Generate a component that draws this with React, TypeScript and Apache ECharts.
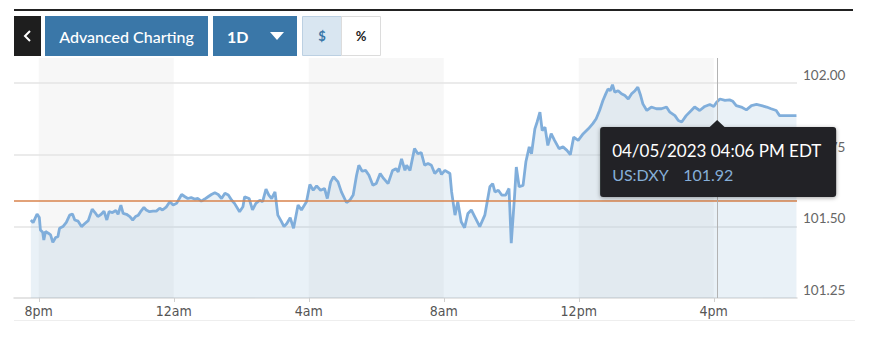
import React, { useEffect, useRef } from 'react';
import * as echarts from 'echarts';

// minutes after 8pm (04/04/2023)
const minutes = [
  -14, -10, -3, 1, 3, 7, 9, 12, 17, 21, 25, 30, 34, 37, 43, 49, 55, 60, 64, 70,
  76, 82, 88, 95, 100, 105, 111, 116, 121, 125, 131, 137, 141, 146, 150, 156, 162, 167, 172, 177,
  181, 187, 191, 197, 203, 209, 215, 220, 227, 233, 239, 245, 254, 260, 265, 271, 277, 283, 289, 295,
  301, 307, 313, 319, 325, 331, 337, 343, 348, 357, 363, 366, 374, 380, 386, 393, 398, 404, 409, 414,
  420, 425, 431, 436, 441, 447, 453, 461, 467, 476, 482, 488, 494, 501, 508, 513, 519, 524, 532, 538,
  547, 553, 559, 565, 569, 575, 581, 587, 594, 600, 607, 613, 621, 629, 635, 639, 645, 651, 654, 660,
  668, 674, 680, 686, 692, 698, 704, 712, 716, 722, 731, 734, 740, 745, 751, 757, 763, 769, 775, 784,
  793, 802, 807, 811, 817, 823, 830, 836, 840, 846, 849, 854, 861, 866, 872, 876, 882, 886, 891, 895,
  900, 905, 911, 917, 925, 932, 939, 945, 951, 959, 968, 977, 985, 991, 997, 1003, 1008, 1012, 1016, 1020,
  1024, 1030, 1036, 1042, 1048, 1054, 1060, 1065, 1070, 1074, 1081, 1089, 1098, 1107, 1116, 1122, 1131, 1137, 1143, 1151,
  1160, 1166, 1175, 1184, 1193, 1200, 1205, 1211, 1220, 1228, 1234, 1240, 1249, 1258, 1267, 1276, 1285, 1294, 1302, 1311,
  1317, 1326, 1338, 1347,
];

const values = [
  101.522, 101.513, 101.543, 101.531, 101.487, 101.479, 101.452, 101.482, 101.476, 101.470, 101.444, 101.461, 101.464, 101.493, 101.499, 101.514, 101.539, 101.543, 101.522, 101.518,
  101.499, 101.510, 101.520, 101.560, 101.548, 101.534, 101.542, 101.553, 101.522, 101.551, 101.548, 101.555, 101.542, 101.574, 101.545, 101.542, 101.534, 101.522, 101.534, 101.539,
  101.551, 101.566, 101.557, 101.551, 101.553, 101.553, 101.563, 101.557, 101.568, 101.586, 101.574, 101.580, 101.611, 101.603, 101.597, 101.600, 101.595, 101.597, 101.588, 101.595,
  101.603, 101.611, 101.617, 101.611, 101.597, 101.615, 101.609, 101.591, 101.580, 101.551, 101.568, 101.603, 101.597, 101.557, 101.580, 101.591, 101.586, 101.630, 101.609, 101.597,
  101.620, 101.539, 101.518, 101.499, 101.510, 101.530, 101.493, 101.574, 101.557, 101.586, 101.646, 101.626, 101.641, 101.626, 101.632, 101.597, 101.655, 101.673, 101.655, 101.620,
  101.583, 101.591, 101.609, 101.678, 101.713, 101.692, 101.695, 101.678, 101.643, 101.649, 101.684, 101.667, 101.649, 101.695, 101.701, 101.690, 101.735, 101.695, 101.713, 101.695,
  101.771, 101.753, 101.757, 101.713, 101.719, 101.713, 101.684, 101.701, 101.681, 101.695, 101.684, 101.620, 101.539, 101.586, 101.516, 101.495, 101.545, 101.557, 101.534, 101.499,
  101.539, 101.638, 101.649, 101.620, 101.626, 101.609, 101.609, 101.632, 101.441, 101.609, 101.707, 101.638, 101.643, 101.725, 101.777, 101.753, 101.840, 101.864, 101.898, 101.834,
  101.846, 101.782, 101.823, 101.800, 101.771, 101.777, 101.765, 101.750, 101.811, 101.800, 101.823, 101.840, 101.858, 101.875, 101.904, 101.939, 101.962, 101.979, 101.973, 101.994,
  101.968, 101.973, 101.962, 101.956, 101.944, 101.962, 101.973, 101.985, 101.956, 101.927, 101.904, 101.916, 101.910, 101.910, 101.916, 101.898, 101.886, 101.869, 101.864, 101.886,
  101.904, 101.916, 101.904, 101.918, 101.925, 101.918, 101.933, 101.944, 101.939, 101.941, 101.936, 101.921, 101.916, 101.906, 101.921, 101.925, 101.921, 101.916, 101.910, 101.904,
  101.886, 101.886, 101.886, 101.886,
];

const tickMinutes = [0, 240, 480, 720, 960, 1200];
const tickLabels = ['8pm', '12am', '4am', '8am', '12pm', '4pm'];
const yTicks = [101.25, 101.5, 101.75, 102.0];
const gridValues = [101.5, 101.75, 102.0];
const prevClose = 101.59;
const shadedRanges = [
  [0, 240],
  [480, 720],
  [960, 1200],
];
const cursorMinute = 1206;
const tooltipDate = '04/05/2023 04:06 PM EDT';
const tooltipSymbol = 'US:DXY';
const tooltipValue = '101.92';
const buttonLabels = ['Advanced Charting', '1D', '$', '%'];

const FONT = 'Lato, "Noto Sans", sans-serif';

export default function App() {
  const ref = useRef<HTMLDivElement>(null);

  useEffect(() => {
    if (!ref.current) return;
    const chart = echarts.init(ref.current, undefined, { renderer: 'svg' });
    const lineData = minutes.map((m, i) => [m, values[i]]);

    chart.setOption({
      animation: false,
      grid: { left: 14, right: 73, top: 58, bottom: 57 },
      xAxis: {
        type: 'value',
        min: -44,
        max: 1348,
        splitLine: { show: false },
        axisLine: { show: true, lineStyle: { color: '#dcdcdc', width: 1.5 } },
        axisTick: { show: true, customValues: tickMinutes, length: 4, lineStyle: { color: '#d0d0d0' } },
        axisLabel: {
          customValues: tickMinutes,
          formatter: (v: number) => tickLabels[tickMinutes.indexOf(v)] ?? '',
          color: '#555',
          fontFamily: '"Liberation Sans Narrow", "DejaVu Sans Condensed", Lato, sans-serif',
          fontSize: 14,
          margin: 6,
        },
      },
      yAxis: {
        type: 'value',
        position: 'right',
        min: 101.25,
        max: 102.087,
        splitLine: { show: false },
        axisLine: { show: false },
        axisTick: { show: false },
        axisLabel: {
          customValues: yTicks,
          formatter: (v: number) => v.toFixed(2),
          color: '#666',
          fontFamily: FONT,
          fontSize: 13.5,
          verticalAlign: 'bottom',
          margin: 6,
          padding: [0, 0, 1, 0],
        },
      },
      series: [
        {
          type: 'line',
          data: [],
          z: 1,
          silent: true,
          markArea: {
            silent: true,
            itemStyle: { color: 'rgba(0,0,0,0.032)' },
            data: shadedRanges.map(([a, b]) => [{ xAxis: a }, { xAxis: b }]),
          },
          markLine: {
            silent: true,
            z: 1,
            symbol: ['none', 'none'],
            label: { show: false },
            lineStyle: { color: '#e4e4e4', width: 1.5, type: 'solid' },
            data: gridValues.map((v) => ({ yAxis: v })),
          },
        },
        {
          type: 'line',
          data: lineData,
          z: 2,
          showSymbol: false,
          symbol: 'none',
          lineStyle: { color: '#80aedb', width: 2.8 },
          areaStyle: { color: 'rgba(140,180,215,0.27)', origin: 'start' },
          markLine: {
            silent: true,
            symbol: ['none', 'none'],
            label: { show: false },
            data: [
              { yAxis: prevClose, lineStyle: { color: '#d9834d', width: 1.5, type: 'solid' } },
              { xAxis: cursorMinute, lineStyle: { color: '#b3b3b3', width: 1, type: 'solid' } },
            ],
          },
        },
      ],
    });

    const cx = chart.convertToPixel({ gridIndex: 0 }, [cursorMinute, 101.5])[0];
    const tipW = 236;
    const tipLeft = cx - 117;
    chart.setOption({
      graphic: [
        { type: 'rect', shape: { x: 14, y: 9, width: 839, height: 2 }, style: { fill: '#222' }, z: 100 },
        // back button
        { type: 'rect', shape: { x: 14, y: 16, width: 27, height: 40 }, style: { fill: '#1e1e1e' }, z: 100 },
        { type: 'polyline', shape: { points: [[30, 31], [25, 36], [30, 41]] }, style: { stroke: '#fff', lineWidth: 2, fill: 'none' }, z: 101 },
        // Advanced Charting
        { type: 'rect', shape: { x: 45, y: 16, width: 163, height: 40 }, style: { fill: '#3a77a8' }, z: 100 },
        { type: 'text', style: { x: 126.5, y: 36, text: buttonLabels[0], fill: '#fff', font: `500 16px ${FONT}`, align: 'center', verticalAlign: 'middle' }, z: 101 },
        // 1D
        { type: 'rect', shape: { x: 213, y: 16, width: 84, height: 40 }, style: { fill: '#3a77a8' }, z: 100 },
        { type: 'text', style: { x: 227, y: 36, text: buttonLabels[1], fill: '#fff', font: `bold 16px ${FONT}`, align: 'left', verticalAlign: 'middle' }, z: 101 },
        { type: 'polygon', shape: { points: [[270, 32], [284, 32], [277, 40]] }, style: { fill: '#fff' }, z: 101 },
        // $ / %
        { type: 'rect', shape: { x: 302.5, y: 16.5, width: 39, height: 39 }, style: { fill: '#d9e6f1', stroke: '#bcd0e2', lineWidth: 1 }, z: 100 },
        { type: 'text', style: { x: 322, y: 36, text: buttonLabels[2], fill: '#3a77a8', font: `bold 13px ${FONT}`, align: 'center', verticalAlign: 'middle' }, z: 101 },
        { type: 'rect', shape: { x: 341.5, y: 16.5, width: 39, height: 39 }, style: { fill: '#fff', stroke: '#dcdcdc', lineWidth: 1 }, z: 100 },
        { type: 'text', style: { x: 361, y: 36, text: buttonLabels[3], fill: '#222', font: `bold 13px ${FONT}`, align: 'center', verticalAlign: 'middle' }, z: 101 },
        // bottom faint border
        { type: 'line', shape: { x1: 14, y1: 320.5, x2: 855, y2: 320.5 }, style: { stroke: '#eeeeee', lineWidth: 1 }, z: 100 },
        // tooltip
        {
          type: 'rect',
          shape: { x: tipLeft, y: 127, width: tipW, height: 70, r: 3 },
          style: { fill: '#222326', shadowBlur: 4, shadowColor: 'rgba(0,0,0,0.35)', shadowOffsetY: 1 },
          z: 200,
        },
        { type: 'polygon', shape: { points: [[cx - 8, 127.5], [cx + 8, 127.5], [cx, 120]] }, style: { fill: '#222326' }, z: 201 },
        { type: 'text', style: { x: tipLeft + 12, y: 150, text: tooltipDate, fill: '#fff', font: `17px ${FONT}`, align: 'left', verticalAlign: 'middle' }, z: 202 },
        { type: 'text', style: { x: tipLeft + 12, y: 174, text: tooltipSymbol, fill: '#86afd8', font: `16px ${FONT}`, align: 'left', verticalAlign: 'middle' }, z: 202 },
        { type: 'text', style: { x: tipLeft + 83, y: 174, text: tooltipValue, fill: '#86afd8', font: `16px ${FONT}`, align: 'left', verticalAlign: 'middle' }, z: 202 },
      ],
    });

    return () => chart.dispose();
  }, []);

  return <div ref={ref} style={{ position: 'absolute', left: 0, top: 0, width: 870, height: 355 }} />;
}
